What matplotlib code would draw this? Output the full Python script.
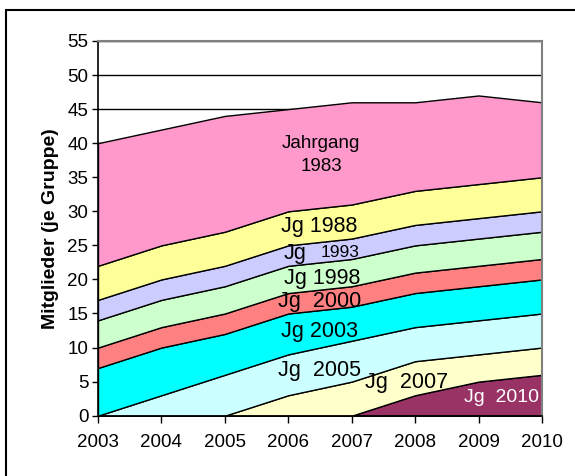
import numpy as np
import matplotlib
matplotlib.use("Agg")
import matplotlib.pyplot as plt
from matplotlib.patches import Rectangle

plt.rcParams['font.family'] = ['Liberation Sans', 'DejaVu Sans']

# years and members per group (stacked from bottom to top)
jahre = [2003, 2004, 2005, 2006, 2007, 2008, 2009, 2010]
jg2010 = [0, 0, 0, 0, 0, 3, 5, 6]
jg2007 = [0, 0, 0, 3, 5, 5, 4, 4]
jg2005 = [0, 3, 6, 6, 6, 5, 5, 5]
jg2003 = [7, 7, 6, 6, 5, 5, 5, 5]
jg2000 = [3, 3, 3, 3, 3, 3, 3, 3]
jg1998 = [4, 4, 4, 4, 4, 4, 4, 4]
jg1993 = [3, 3, 3, 3, 3, 3, 3, 3]
jg1988 = [5, 5, 5, 5, 5, 5, 5, 5]
jg1983 = [18, 17, 17, 15, 15, 13, 13, 11]

farben = ['#993366', '#FFFFCC', '#CCFFFF', '#00FFFF', '#FF8080',
          '#CCFFCC', '#CCCCFF', '#FFFF99', '#FF99CC']

fig = plt.figure(figsize=(5.75, 4.76), dpi=100)
ax = fig.add_axes([0.1704, 0.1267, 0.7722, 0.7872])

ax.stackplot(jahre, jg2010, jg2007, jg2005, jg2003, jg2000, jg1998,
             jg1993, jg1988, jg1983, colors=farben,
             edgecolor='black', linewidth=1.0, zorder=2)

ax.set_xlim(2003, 2010)
ax.set_ylim(0, 55)
ax.set_xticks(jahre)
ax.set_yticks(np.arange(0, 56, 5))
ax.yaxis.grid(True, color='black', linewidth=1.0, zorder=0)
ax.set_axisbelow(True)

ax.tick_params(axis='y', direction='out', length=4, width=1, pad=3,
               labelsize=13.5)
ax.tick_params(axis='x', direction='out', length=5, width=1, pad=8,
               labelsize=13.5)
ax.spines['top'].set_color('#808080')
ax.spines['right'].set_color('#808080')
ax.spines['top'].set_linewidth(1.5)
ax.spines['right'].set_linewidth(1.5)
ax.spines['left'].set_linewidth(1.2)
ax.spines['bottom'].set_linewidth(1.2)

ax.set_ylabel('Mitglieder (je Gruppe)', fontsize=14, fontweight='bold',
              labelpad=6)

# labels inside the areas
ax.text(2006.52, 38.3, 'Jahrgang\n1983', ha='center', va='center',
        fontsize=13.5, linespacing=1.5, zorder=3)
ax.text(2006.49, 27.8, 'Jg 1988', ha='center', va='center', fontsize=15.5, zorder=3)
ax.text(2006.1, 23.8, 'Jg', ha='center', va='center', fontsize=15.5, zorder=3)
ax.text(2006.82, 24.0, '1993', ha='center', va='center', fontsize=12.5, zorder=3)
ax.text(2006.54, 20.2, 'Jg 1998', ha='center', va='center', fontsize=15.5, zorder=3)
ax.text(2006.5, 16.8, 'Jg  2000', ha='center', va='center', fontsize=15.5, zorder=3)
ax.text(2006.5, 12.4, 'Jg 2003', ha='center', va='center', fontsize=15.5, zorder=3)
ax.text(2006.5, 6.6, 'Jg  2005', ha='center', va='center', fontsize=15.5, zorder=3)
ax.text(2007.86, 4.8, 'Jg  2007', ha='center', va='center', fontsize=15.5, zorder=3)
ax.text(2009.36, 2.7, 'Jg  2010', ha='center', va='center', fontsize=14,
        color='white', zorder=3)

# outer frame (only left and top visible in the picture)
fig.patches.append(Rectangle((6 / 575, -0.1), 1.2, 1 - 9.5 / 476 + 0.1,
                             transform=fig.transFigure, fill=False,
                             edgecolor='black', linewidth=1.5))

fig.savefig('out.png', dpi=100)
